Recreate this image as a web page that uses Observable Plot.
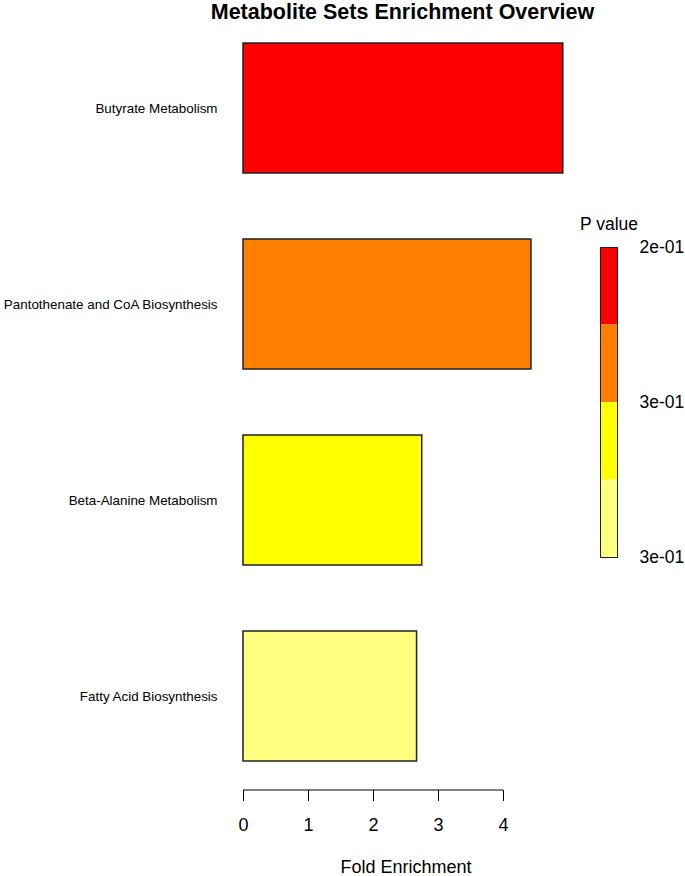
<!DOCTYPE html>
<html>
<head>
<meta charset="utf-8">
<script src="https://cdn.jsdelivr.net/npm/d3@7"></script>
<script src="https://cdn.jsdelivr.net/npm/@observablehq/plot@0.6"></script>
<style>
  html, body { margin: 0; padding: 0; background: #fff; }
  #wrap { position: relative; width: 685px; height: 876px; font-family: "Liberation Sans", Arial, sans-serif; }
  #title { height: 24px; line-height: 24px; padding-left: 120px; width: 565px; text-align: center; font-weight: bold; font-size: 21.5px; color: #000; white-space: nowrap; }
  #legend { position: absolute; left: 0; top: 24px; }
</style>
</head>
<body>
<div id="wrap">
  <div id="title">Metabolite Sets Enrichment Overview</div>
  <div id="main"></div>
  <div id="legend"></div>
</div>
<script>
// ---- data ----
const pathways = ["Butyrate Metabolism", "Pantothenate and CoA Biosynthesis", "Beta-Alanine Metabolism", "Fatty Acid Biosynthesis"];
const foldEnrichment = [4.92, 4.43, 2.75, 2.67];
const barColors = ["#FF0000", "#FF8000", "#FFFF00", "#FFFF80"];
const xTicks = [0, 1, 2, 3, 4];
const legendLabels = ["2e-01", "3e-01", "3e-01"];
const legendTickPositions = [0, 2, 4];
const xLabel = "Fold Enrichment";
const legendTitle = "P value";

const rows = pathways.map((p, i) => ({name: p, fe: foldEnrichment[i], color: barColors[i]}));
const legendBins = barColors.map((c, i) => ({i, color: c}));

const font = "Liberation Sans, Arial, sans-serif";
const W = 685, H = 852;

const main = Plot.plot({
  width: W, height: H,
  marginLeft: 243, marginRight: 117, marginTop: 19, marginBottom: 86,
  style: {fontFamily: font, background: "transparent", color: "#000"},
  x: {domain: [0, 5]},
  y: {domain: pathways, range: [19, 737], paddingInner: 66 / 196, paddingOuter: 0},
  color: {type: "identity"},
  marks: [
    Plot.barX(rows, {x: "fe", y: "name", fill: "color", stroke: "#222", strokeWidth: 1.5}),
    Plot.axisY({tickSize: 0, tickPadding: 26, fontSize: 13.4, label: null}),
    Plot.axisX({ticks: xTicks, tickFormat: d3.format("d"), tickSize: 11, tickPadding: 17, fontSize: 18,
      label: xLabel, labelAnchor: "center", labelArrow: "none", labelOffset: 82})
  ]
});
// axis domain line from first to last tick, via the plot's own scale
const xs = main.scale("x");
d3.select(main).append("line")
  .attr("x1", xs.apply(xTicks[0])).attr("x2", xs.apply(xTicks[xTicks.length - 1]))
  .attr("y1", H - 86).attr("y2", H - 86)
  .attr("stroke", "#000").attr("stroke-width", 1.2);
document.getElementById("main").append(main);

const legend = Plot.plot({
  width: W, height: H,
  marginLeft: 600, marginRight: 68, marginTop: 223, marginBottom: 319,
  style: {fontFamily: font, background: "transparent", color: "#000"},
  y: {domain: [0, 4], reverse: true},
  color: {type: "identity"},
  marks: [
    Plot.rect(legendBins, {y1: d => d.i, y2: d => d.i + 1, fill: "color"}),
    Plot.frame({stroke: "#222", strokeWidth: 1}),
    Plot.axisY({anchor: "right", ticks: legendTickPositions, tickFormat: (d) => legendLabels[legendTickPositions.indexOf(d)],
      tickSize: 0, tickPadding: 22, fontSize: 17.5, label: null}),
    Plot.text([legendTitle], {frameAnchor: "top", dy: -30, fontSize: 17.5})
  ]
});
document.getElementById("legend").append(legend);
</script>
</body>
</html>
